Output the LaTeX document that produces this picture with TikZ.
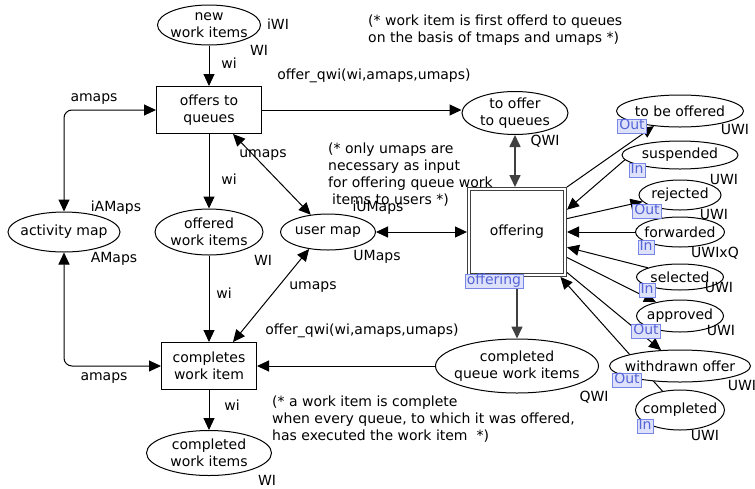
\documentclass[tikz,border=0pt]{standalone}
\usepackage{fontspec}
\setmainfont{DejaVu Sans}
\usetikzlibrary{arrows.meta,shapes.geometric,backgrounds}
\definecolor{tagline}{RGB}{120,135,230}
\definecolor{tagfill}{RGB}{222,225,250}
\definecolor{tagtext}{RGB}{85,100,215}
\tikzset{
  place/.style={draw, line width=1pt, ellipse, fill=white, inner xsep=-8pt, inner ysep=-4pt, align=center},
  trans/.style={draw, line width=1pt, rectangle, fill=white, inner sep=0pt, align=center},
  subst/.style={draw=darkgray, double, double distance=2pt, line width=1.2pt, fill=white, outer sep=2.2pt},
  porttag/.style={draw=tagline, fill=tagfill, text=tagtext, inner xsep=1.8pt, inner ysep=1pt, text height=9.5pt, text depth=2pt},
  arc/.style={-{Triangle[length=12pt,width=11pt]}, line width=1pt},
  biarc/.style={{Triangle[length=12pt,width=11pt]}-{Triangle[length=12pt,width=11pt]}, line width=1pt},
  heavy/.style={draw=darkgray, line width=1.6pt},
  lbl/.style={inner sep=0pt},
  note/.style={inner sep=0pt, anchor=west, align=left}
}
\begin{document}
\begin{tikzpicture}[x=1pt,y=-1pt, font=\fontsize{14}{17}\selectfont]
\useasboundingbox (0,0) rectangle (755,488);
\node[place, minimum width=103pt, minimum height=40pt] (newwi) at (209,25) {new\\work items};
\node[trans, minimum width=105pt, minimum height=47pt] (offers) at (209,110) {offers to\\queues};
\node[place, minimum width=106pt, minimum height=43pt] (tooffer) at (515,113) {to offer\\to queues};
\node[place, minimum width=112pt, minimum height=40pt] (actmap) at (64,232) {activity map};
\node[place, minimum width=108pt, minimum height=46pt] (offered) at (209,232) {offered\\work items};
\node[place, minimum width=95pt, minimum height=36pt] (usermap) at (328,232) {user map};
\node[subst, minimum width=95.6pt, minimum height=85.6pt] (offering) at (517,232) {offering};
\node[place, minimum width=163pt, minimum height=54pt] (cqwi) at (517,366) {completed\\queue work items};
\node[trans, minimum width=95pt, minimum height=47pt] (completes) at (209,366) {completes\\work item};
\node[place, minimum width=125pt, minimum height=45pt] (cwi) at (209,453) {completed\\work items};
\node[place, minimum width=127pt, minimum height=32pt] (tobeoffered) at (680,111) {to be offered};
\node[place, minimum width=116pt, minimum height=28pt] (suspended) at (680,155) {suspended};
\node[place, minimum width=82pt, minimum height=30pt] (rejected) at (680,195) {rejected};
\node[place, minimum width=89pt, minimum height=30pt] (forwarded) at (680,232) {forwarded};
\node[place, minimum width=87pt, minimum height=26pt] (selected) at (680,277) {selected};
\node[place, minimum width=87pt, minimum height=32pt] (approved) at (680,316) {approved};
\node[place, minimum width=141pt, minimum height=32pt] (withdrawn) at (680,366) {withdrawn offer};
\node[place, minimum width=89pt, minimum height=40pt] (completed) at (680,410) {completed};
\draw[arc] (newwi) -- (offers);
\draw[arc] (offers.east) -- (offers.east -| tooffer.west);
\draw[biarc, rounded corners=8pt] (actmap.north) |- (offers.west);
\draw[arc] (offers) -- (offered);
\draw[biarc] (offers.-45) -- (usermap.135);
\draw[biarc] (usermap) -- (offering);
\draw[arc] (offered) -- (completes);
\draw[biarc] (usermap.222) -- (completes.45);
\draw[biarc, rounded corners=8pt] (actmap.south) |- (completes.west);
\draw[arc] (cqwi) -- (completes);
\draw[arc] (completes) -- (cwi);
\draw[biarc, heavy] (tooffer.south) -- (tooffer.south |- offering.north);
\draw[arc, heavy] (offering) -- (cqwi);
\draw[arc] (offering.north east) -- (tobeoffered.210);
\draw[arc] (suspended.185) -- (offering.24);
\draw[arc] (offering.15) -- (rejected.190);
\draw[arc] (forwarded) -- (offering);
\draw[arc] (selected.164) -- (offering.-17);
\draw[arc] (offering.-27) -- (approved.150);
\draw[arc] (offering.-39) -- (withdrawn.140);
\begin{pgfonlayer}{background}
\draw[arc] (completed.133) -- (offering.-46);
\end{pgfonlayer}
\node[lbl] (iwi) at (278,24) {iWI};
\node[lbl] (wtype) at (259,50) {WI};
\node[lbl] (wi1) at (229,63) {wi};
\node[lbl] (offer1) at (374,76) {offer\_qwi(wi,amaps,umaps)};
\node[lbl] (amaps1) at (94,99) {amaps};
\node[lbl] (umaps1) at (263,155) {umaps};
\node[lbl] (wi2) at (229,179) {wi};
\node[lbl] (qwi1) at (545,141) {QWI};
\node[lbl] (iamaps) at (116,208) {iAMaps};
\node[lbl] (amtype) at (114,259) {AMaps};
\node[lbl] (wtype2) at (263,260) {WI};
\node[lbl] (iumaps) at (378,208) {iUMaps};
\node[lbl] (umtype) at (377,257) {UMaps};
\node[lbl] (wi3) at (224,293) {wi};
\node[lbl] (umaps2) at (313,287) {umaps};
\node[lbl] (offer2) at (362,331) {offer\_qwi(wi,amaps,umaps)};
\node[lbl] (amaps2) at (104,378) {amaps};
\node[lbl] (wi4) at (232,405) {wi};
\node[lbl] (wtype3) at (267,480) {WI};
\node[lbl] (qwi2) at (594,397) {QWI};
\node[lbl] (uwi1) at (735,129) {UWI};
\node[lbl] (uwi2) at (724,179) {UWI};
\node[lbl] (uwi3) at (714,214) {UWI};
\node[lbl] (uwixq) at (715,253) {UWIxQ};
\node[lbl] (uwi4) at (719,287) {UWI};
\node[lbl] (uwi5) at (721,330) {UWI};
\node[lbl] (uwi6) at (742,385) {UWI};
\node[lbl] (uwi7) at (705,435) {UWI};
\node[porttag] (tag1) at (632,126) {Out};
\node[porttag] (tag2) at (637,170) {In};
\node[porttag] (tag3) at (647,211) {Out};
\node[porttag] (tag4) at (646,247) {In};
\node[porttag] (tag5) at (647,290) {In};
\node[porttag] (tag6) at (646,331) {Out};
\node[porttag] (tag7) at (627,380) {Out};
\node[porttag] (tag8) at (645,426) {In};
\node[porttag] (subtag) at (494,281) {offering};
\node[note] (note1) at (368,30.5) {(* work item is first offerd to queues\\on the basis of tmaps and umaps *)};
\node[note] (note2) at (328,175) {(* only umaps are\\necessary as input\\for offering queue work\\\hspace{4pt}items to users *)};
\node[note] (note3) at (272,419) {(* a work item is complete\\when every queue, to which it was offered,\\has executed the work item~ *)};
\end{tikzpicture}
\end{document}
